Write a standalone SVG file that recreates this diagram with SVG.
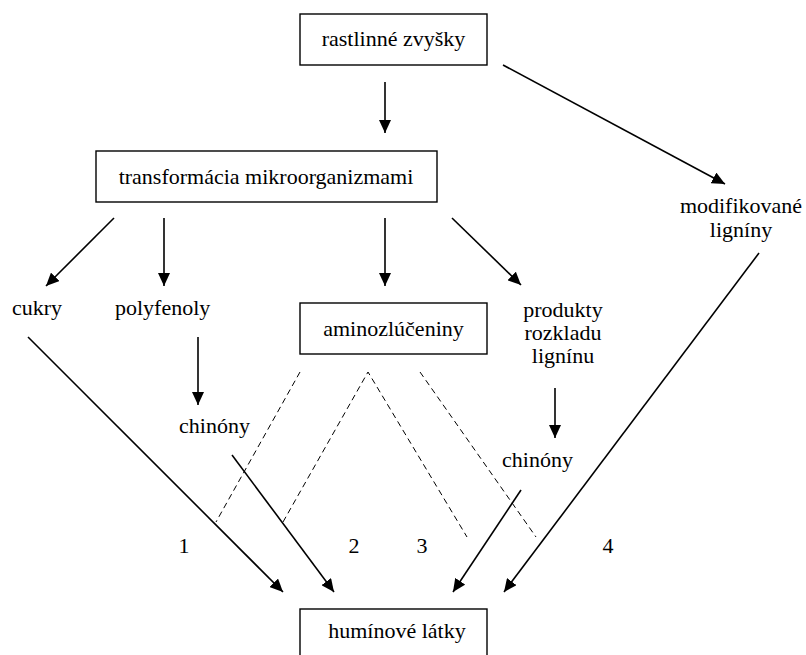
<svg xmlns="http://www.w3.org/2000/svg" width="806" height="655" viewBox="0 0 806 655">
<defs>
<marker id="ah" markerUnits="userSpaceOnUse" markerWidth="14" markerHeight="12" viewBox="0 0 14 12" refX="13" refY="6" orient="auto">
<path d="M0,0 L13,6 L0,12 z" fill="#000"/>
</marker>
</defs>
<style>
.box{fill:#fff;stroke:#000;stroke-width:1.4}
.arr{stroke:#000;stroke-width:1.6;fill:none;marker-end:url(#ah)}
.dash{stroke:#000;stroke-width:1;fill:none;stroke-dasharray:6,4}
</style>
<rect width="806" height="655" fill="#fff"/>
<g id="connectors">
<line class="arr" x1="385" y1="82" x2="385" y2="133"/>
<line class="arr" x1="503" y1="65" x2="725" y2="184"/>
<line class="arr" x1="114" y1="218" x2="46" y2="286"/>
<line class="arr" x1="164" y1="218" x2="164" y2="286"/>
<line class="arr" x1="385" y1="218" x2="385" y2="286"/>
<line class="arr" x1="452" y1="218" x2="521" y2="285"/>
<line class="arr" x1="28" y1="337" x2="283" y2="592"/>
<line class="arr" x1="198" y1="337" x2="198" y2="405"/>
<line class="arr" x1="232" y1="455" x2="334" y2="592"/>
<line class="arr" x1="555" y1="388" x2="555" y2="438"/>
<line class="arr" x1="521" y1="490" x2="453" y2="592"/>
<line class="arr" x1="759" y1="253" x2="504" y2="592"/>
<line class="dash" x1="300" y1="372" x2="216" y2="522"/>
<polyline class="dash" points="283,522 368,372 467,537"/>
<line class="dash" x1="420" y1="372" x2="536" y2="537"/>
</g>
<g font-family="'Liberation Serif', Tinos, 'Times New Roman', 'DejaVu Serif', serif" font-size="22" fill="#000">
<g id="rastlinne">
<rect class="box" x="300" y="14" width="187" height="51"/>
<text text-anchor="middle" x="393.5" y="46">rastlinné zvyšky</text>
</g>
<g id="transformacia">
<rect class="box" x="96" y="151" width="341" height="51"/>
<text text-anchor="middle" x="266" y="184">transformácia mikroorganizmami</text>
</g>
<g id="cukry"><text x="12" y="315">cukry</text></g>
<g id="polyfenoly"><text x="115" y="315">polyfenoly</text></g>
<g id="aminozluceniny">
<rect class="box" x="300" y="303" width="187" height="51"/>
<text text-anchor="middle" x="393.5" y="336">aminozlúčeniny</text>
</g>
<g id="produkty">
<text text-anchor="middle" x="563" y="317">produkty</text>
<text text-anchor="middle" x="563" y="340">rozkladu</text>
<text text-anchor="middle" x="563" y="363">lignínu</text>
</g>
<g id="modifikovane">
<text text-anchor="middle" x="741" y="213">modifikované</text>
<text text-anchor="middle" x="741" y="237">ligníny</text>
</g>
<g id="chinony1"><text x="179" y="433">chinóny</text></g>
<g id="chinony2"><text x="502" y="467">chinóny</text></g>
<g id="labels">
<text text-anchor="middle" x="184" y="553">1</text>
<text text-anchor="middle" x="354" y="553">2</text>
<text text-anchor="middle" x="422" y="553">3</text>
<text text-anchor="middle" x="608" y="553">4</text>
</g>
<g id="huminove">
<rect class="box" x="300" y="609" width="187" height="60"/>
<text text-anchor="middle" x="397" y="638">humínové látky</text>
</g>
</g>
</svg>
